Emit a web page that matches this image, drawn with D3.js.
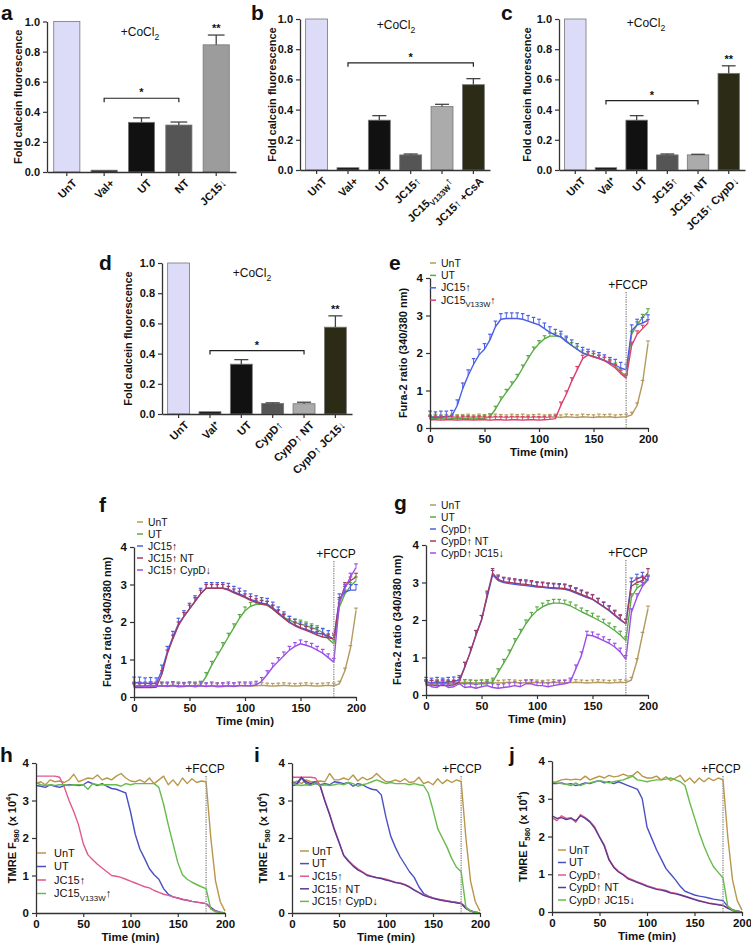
<!DOCTYPE html>
<html><head><meta charset="utf-8">
<script src="https://cdn.jsdelivr.net/npm/d3@7"></script>
<style>body{margin:0;background:#fff}svg{display:block}text{font-family:"Liberation Sans",Arial,Helvetica,sans-serif;fill:#111}</style>
</head><body><svg id="fig" width="751" height="949"></svg>
<script>
// ---------------- DATA ----------------
const barTicks = [0, 0.2, 0.4, 0.6, 0.8, 1.0];
const a_cats = ["UnT","Val+","UT","NT","JC15↓"];
const a_vals = [1.0, 0.012, 0.33, 0.312, 0.845];
const a_errs = [0, 0, 0.03, 0.02, 0.065];
const b_cats = ["UnT","Val+","UT","JC15↑","JC15_{V133W}↑","JC15↑ +CsA"];
const b_vals = [1.0, 0.015, 0.33, 0.10, 0.42, 0.565];
const b_errs = [0, 0, 0.03, 0.006, 0.015, 0.04];
const c_cats = ["UnT","Val⁺","UT","JC15↑","JC15↑ NT","JC15↑ CypD↓"];
const c_vals = [1.0, 0.015, 0.33, 0.10, 0.10, 0.64];
const c_errs = [0, 0, 0.03, 0.006, 0.004, 0.05];
const d_cats = ["UnT","Val⁺","UT","CypD↑","CypD↑ NT","CypD↑ JC15↓"];
const d_vals = [1.0, 0.015, 0.33, 0.07, 0.068, 0.575];
const d_errs = [0, 0, 0.03, 0.004, 0.01, 0.075];

const furaTicks = [0, 1, 2, 3, 4];
const timeTicks = [0, 50, 100, 150, 200];
const time = [0,5,10,15,20,25,30,35,40,45,50,55,60,65,70,75,80,85,90,95,100,105,110,115,120,125,130,135,140,145,150,155,160,165,170,175,180,185,190,195,200];

const e_names = ["UnT","UT","JC15↑","JC15_{V133W}↑"];
const e_UnT = [0.28,0.30,0.28,0.29,0.30,0.28,0.29,0.30,0.28,0.30, 0.29,0.28,0.30,0.29,0.28,0.30,0.29,0.30,0.28,0.29, 0.30,0.28,0.29,0.30,0.28,0.30,0.29,0.28,0.30,0.29, 0.28,0.30,0.29,0.30,0.28,0.29,0.30,0.35,0.60,1.20, 2.25];
const e_UT = [0.25,0.26,0.25,0.24,0.25,0.26,0.25,0.25,0.24,0.25, 0.26,0.30,0.50,0.75,0.95,1.15,1.35,1.60,1.85,2.08, 2.25,2.38,2.45,2.45,2.43,2.33,2.20,2.10,2.00,1.95, 1.90,1.86,1.80,1.75,1.65,1.50,1.37,2.50,2.75,2.95, 3.10];
const e_JC15 = [0.30,0.28,0.30,0.30,0.32,0.60,1.05,1.40,1.70,1.95, 2.10,2.35,2.70,2.90,2.92,2.92,2.92,2.90,2.85,2.80, 2.75,2.65,2.55,2.48,2.43,2.30,2.20,2.10,2.00,1.95, 1.90,1.86,1.80,1.73,1.68,1.60,1.55,2.60,2.75,2.80, 2.87];
const e_V133W = [0.22,0.22,0.21,0.22,0.22,0.21,0.22,0.22,0.21,0.22, 0.22,0.21,0.22,0.22,0.21,0.22,0.22,0.21,0.22,0.22, 0.21,0.22,0.23,0.25,0.60,0.90,1.25,1.55,1.85,1.95, 1.90,1.85,1.80,1.70,1.60,1.45,1.33,2.20,2.50,2.65, 2.80];
const e_err = [0.07, 0.08, 0.15, 0.09];

const f_names = ["UnT","UT","JC15↑","JC15↑ NT","JC15↑ CypD↓"];
const f_UnT = [0.30,0.29,0.30,0.31,0.30,0.29,0.30,0.31,0.30,0.29, 0.30,0.31,0.30,0.29,0.30,0.31,0.30,0.29,0.30,0.31, 0.30,0.29,0.30,0.31,0.30,0.29,0.30,0.31,0.30,0.29, 0.30,0.31,0.30,0.29,0.30,0.31,0.30,0.35,0.70,1.30, 2.30];
const f_UT = [0.30,0.29,0.30,0.31,0.30,0.29,0.30,0.31,0.30,0.29, 0.30,0.30,0.32,0.55,0.85,1.10,1.35,1.60,1.85,2.10, 2.30,2.42,2.47,2.47,2.45,2.35,2.22,2.12,2.05,1.98, 1.95,1.90,1.85,1.80,1.72,1.55,1.42,2.40,2.75,2.95, 3.10];
const f_JC15 = [0.38,0.38,0.36,0.37,0.36,0.70,1.20,1.60,1.95,2.15, 2.35,2.55,2.75,2.90,2.90,2.90,2.90,2.88,2.80,2.75, 2.68,2.60,2.55,2.50,2.48,2.38,2.25,2.12,2.00,1.92, 1.85,1.80,1.75,1.70,1.68,1.62,1.55,2.60,2.80,2.85, 2.85];
const f_NT = [0.25,0.25,0.26,0.25,0.26,0.60,1.15,1.55,1.90,2.15, 2.35,2.55,2.75,2.90,2.90,2.90,2.90,2.85,2.78,2.72, 2.65,2.58,2.52,2.48,2.45,2.35,2.22,2.10,1.98,1.90, 1.83,1.78,1.72,1.65,1.60,1.58,1.55,2.55,2.95,3.10, 3.20];
const f_CypD = [0.28,0.30,0.27,0.30,0.28,0.30,0.28,0.30,0.27,0.28, 0.30,0.27,0.30,0.28,0.30,0.27,0.28,0.30,0.28,0.30, 0.30,0.30,0.32,0.42,0.60,0.80,0.95,1.10,1.25,1.35, 1.42,1.38,1.33,1.25,1.17,1.05,0.93,2.50,2.90,3.20, 3.45];
const f_err = [0.07, 0.1, 0.15, 0.1, 0.1];

const g_names = ["UnT","UT","CypD↑","CypD↑ NT","CypD↑ JC15↓"];
const g_UnT = [0.33,0.32,0.33,0.34,0.33,0.32,0.33,0.34,0.33,0.32, 0.33,0.34,0.33,0.32,0.33,0.34,0.33,0.32,0.33,0.34, 0.33,0.32,0.33,0.34,0.33,0.32,0.33,0.34,0.33,0.32, 0.33,0.34,0.33,0.32,0.33,0.34,0.33,0.40,0.90,1.60, 2.30];
const g_UT = [0.30,0.29,0.30,0.31,0.30,0.29,0.30,0.31,0.30,0.29, 0.30,0.30,0.35,0.60,0.85,1.10,1.40,1.65,1.90,2.10, 2.25,2.35,2.42,2.45,2.45,2.43,2.38,2.30,2.22,2.15, 2.08,2.00,1.92,1.82,1.72,1.60,1.45,2.60,2.85,2.95, 3.10];
const g_CypD = [0.35,0.33,0.35,0.33,0.35,0.36,0.40,0.75,1.15,1.60, 2.00,2.60,3.20,3.05,3.00,2.97,2.95,2.93,2.92,2.90, 2.88,2.87,2.85,2.84,2.83,2.82,2.78,2.72,2.66,2.60, 2.55,2.45,2.35,2.25,2.12,2.00,1.90,3.00,3.10,3.15, 3.05];
const g_NT = [0.25,0.27,0.25,0.26,0.25,0.27,0.35,0.75,1.15,1.60, 2.00,2.65,3.25,3.08,3.02,3.00,2.98,2.96,2.95,2.93, 2.90,2.89,2.87,2.86,2.85,2.84,2.80,2.74,2.68,2.62, 2.56,2.46,2.36,2.26,2.14,2.02,1.90,2.90,3.00,3.05, 3.25];
const g_JC15 = [0.30,0.22,0.20,0.30,0.20,0.22,0.30,0.20,0.22,0.18, 0.22,0.25,0.20,0.18,0.20,0.22,0.25,0.22,0.30,0.30, 0.25,0.25,0.22,0.25,0.28,0.30,0.35,0.70,1.05,1.60, 1.58,1.52,1.45,1.38,1.28,1.15,0.95,2.20,2.60,2.90, 3.07];
const g_err = [0.07, 0.1, 0.12, 0.12, 0.1];

const h_names = ["UnT","UT","JC15↑","JC15_{V133W}↑"];
const h_UnT = [3.45,3.50,3.42,3.55,3.50,3.52,3.48,3.55,3.70,3.50, 3.55,3.60,3.58,3.68,3.55,3.60,3.55,3.65,3.72,3.60, 3.52,3.50,3.55,3.48,3.60,3.45,3.55,3.65,3.42,3.55, 3.40,3.60,3.45,3.58,3.48,3.52,3.50,2.00,0.85,0.30, 0.05];
const h_UT = [3.40,3.38,3.35,3.42,3.38,3.35,3.40,3.42,3.42,3.40, 3.42,3.50,3.45,3.40,3.45,3.38,3.32,3.30,3.25,3.20, 2.70,2.10,1.70,1.45,1.18,1.02,0.90,0.65,0.50,0.43, 0.40,0.36,0.34,0.31,0.29,0.27,0.25,0.15,0.06,0.02, 0.00];
const h_JC15 = [3.65,3.65,3.65,3.65,3.65,3.62,3.35,3.00,2.70,2.35, 1.85,1.55,1.42,1.30,1.20,1.10,1.00,0.98,0.95,0.90, 0.85,0.80,0.75,0.70,0.67,0.60,0.55,0.50,0.47,0.43, 0.40,0.37,0.34,0.31,0.29,0.27,0.25,0.12,0.05,0.02, 0.00];
const h_V133W = [3.48,3.42,3.40,3.42,3.40,3.42,3.42,3.40,3.42,3.42, 3.42,3.30,3.45,3.42,3.42,3.42,3.42,3.42,3.38,3.45, 3.42,3.45,3.45,3.45,3.45,3.45,3.35,2.90,2.35,1.85, 1.35,1.02,0.90,0.82,0.76,0.70,0.65,0.10,0.03,0.01, 0.00];

const i_names = ["UnT","UT","JC15↑","JC15↑ NT","JC15↑ CypD↓"];
const i_UnT = [3.45,3.52,3.45,3.55,3.50,3.50,3.52,3.50,3.72,3.55, 3.55,3.60,3.55,3.68,3.52,3.62,3.55,3.60,3.72,3.60, 3.50,3.50,3.55,3.50,3.58,3.48,3.50,3.62,3.45,3.50, 3.42,3.58,3.45,3.55,3.48,3.55,3.50,2.00,0.85,0.30, 0.05];
const i_UT = [3.40,3.42,3.60,3.45,3.42,3.45,3.42,3.45,3.42,3.50, 3.48,3.45,3.48,3.38,3.45,3.42,3.35,3.30,3.28,3.15, 2.55,2.05,1.75,1.50,1.30,1.10,0.95,0.70,0.52,0.45, 0.40,0.37,0.35,0.32,0.30,0.28,0.26,0.15,0.06,0.02, 0.00];
const i_JC15 = [3.62,3.62,3.62,3.62,3.62,3.60,3.40,3.00,2.65,2.25, 1.90,1.55,1.40,1.28,1.18,1.10,1.02,0.98,0.95,0.93, 0.90,0.86,0.82,0.80,0.76,0.70,0.62,0.55,0.48,0.44, 0.40,0.37,0.34,0.32,0.30,0.28,0.26,0.12,0.05,0.02, 0.00];
const i_NT = [3.50,3.45,3.62,3.50,3.45,3.50,3.38,2.98,2.62,2.22, 1.88,1.53,1.38,1.25,1.15,1.08,1.00,0.97,0.94,0.92, 0.88,0.85,0.81,0.79,0.75,0.69,0.61,0.54,0.47,0.43, 0.39,0.36,0.33,0.31,0.29,0.27,0.25,0.12,0.05,0.02, 0.00];
const i_CypD = [3.50,3.42,3.40,3.42,3.40,3.48,3.40,3.42,3.40,3.42, 3.45,3.42,3.48,3.45,3.38,3.42,3.45,3.50,3.55,3.50, 3.45,3.48,3.45,3.45,3.45,3.42,3.45,3.42,3.40,3.20, 2.75,2.25,2.00,1.75,1.45,1.22,1.10,0.15,0.05,0.02, 0.00];

const j_names = ["UnT","UT","CypD↑","CypD↑ NT","CypD↑ JC15↓"];
const j_UnT = [3.42,3.45,3.50,3.52,3.50,3.52,3.50,3.60,3.50,3.55, 3.60,3.55,3.62,3.58,3.60,3.65,3.60,3.62,3.72,3.60, 3.55,3.55,3.60,3.50,3.58,3.48,3.55,3.62,3.45,3.55, 3.42,3.55,3.45,3.55,3.48,3.55,3.50,2.00,0.85,0.30, 0.05];
const j_UT = [3.40,3.40,3.42,3.38,3.40,3.35,3.38,3.42,3.40,3.45, 3.48,3.42,3.45,3.40,3.45,3.40,3.35,3.30,3.25,3.00, 2.25,1.95,1.65,1.40,1.15,1.00,0.85,0.68,0.55,0.50, 0.45,0.42,0.40,0.37,0.34,0.32,0.30,0.15,0.06,0.02, 0.00];
const j_CypD = [2.50,2.42,2.55,2.48,2.50,2.38,2.58,2.50,2.40,2.25, 2.00,1.78,1.40,1.20,1.08,1.00,0.90,0.85,0.80,0.75, 0.70,0.66,0.62,0.60,0.57,0.52,0.50,0.46,0.42,0.38, 0.34,0.30,0.27,0.24,0.22,0.20,0.18,0.10,0.04,0.02, 0.00];
const j_NT = [2.55,2.48,2.50,2.45,2.48,2.42,2.55,2.48,2.38,2.22, 1.98,1.75,1.38,1.18,1.06,0.98,0.88,0.83,0.78,0.73, 0.68,0.64,0.60,0.58,0.55,0.50,0.48,0.45,0.41,0.37, 0.33,0.29,0.26,0.23,0.21,0.19,0.17,0.10,0.04,0.02, 0.00];
const j_JC15 = [3.45,3.42,3.40,3.38,3.35,3.42,3.35,3.40,3.42,3.45, 3.48,3.45,3.42,3.45,3.48,3.50,3.55,3.60,3.50,3.48, 3.45,3.48,3.50,3.50,3.52,3.55,3.50,3.45,3.35,2.90, 2.50,2.10,1.75,1.45,1.20,1.05,0.90,0.15,0.05,0.02, 0.00];

// ---------------- STYLE / LAYOUT ----------------
const FONT = "'Liberation Sans', Arial, Helvetica, sans-serif";
const barFill = {lav:"#dcdcf8", blk:"#111111", dg:"#555555", mg:"#9c9c9c", lg:"#ababab", olive:"#2c2b16"};
const FC = {tan:"#b39a5f", green:"#5aab45", blue:"#4b5ee8", red:"#d9406b", maroon:"#a33a62", purple:"#9b4fe6"};
const TC = {tan:"#b8964a", blue:"#4a4fc4", pink:"#e2588e", dpurple:"#5b3a93", green:"#66bb4c"};

const svg = d3.select("#fig");

function rich(sel, str, fs) {
  const parts = str.split(/(_\{[^}]*\}|\^\{[^}]*\})/).filter(s => s.length);
  let shift = 0;
  parts.forEach(p => {
    let t = p, dy = 0, size = null;
    if (p.startsWith("_{")) { t = p.slice(2, -1); dy = fs * 0.3; size = fs * 0.72; }
    else if (p.startsWith("^{")) { t = p.slice(2, -1); dy = -fs * 0.42; size = fs * 0.72; }
    const ts = sel.append("tspan").text(t);
    const need = dy - shift;
    if (need) ts.attr("dy", need);
    if (size) ts.attr("font-size", size);
    shift = dy;
  });
}
function letter(x, y, t) {
  svg.append("text").attr("x", x).attr("y", y).attr("font-size", 21).attr("font-weight", "bold").text(t);
}
function styleAxis(g, fs) {
  g.select(".domain").attr("stroke", "#333").attr("stroke-width", 1.3);
  g.selectAll(".tick line").attr("stroke", "#333").attr("stroke-width", 1.2);
  g.selectAll(".tick text").attr("font-family", FONT).attr("font-size", fs || 11).attr("font-weight", "bold").attr("fill", "#111");
}
function yTitle(x, yc, str, fs) {
  const t = svg.append("text").attr("transform", `translate(${x},${yc}) rotate(-90)`)
    .attr("text-anchor", "middle").attr("dy", "0.35em").attr("font-size", fs).attr("font-weight", "bold");
  rich(t, str, fs);
}

function barPanel(L, cats, vals, errs, fills, bracket, starsIdx) {
  const g = svg.append("g");
  const x = d3.scaleBand().domain(cats).range([L.x0, L.x1]).paddingInner(0.3).paddingOuter(0.18);
  const y = d3.scaleLinear().domain([0, 1]).range([L.yb, L.yt]);
  const bw = x.bandwidth();
  g.selectAll("rect.bar").data(cats).join("rect").attr("class", "bar")
    .attr("x", c => x(c)).attr("width", bw)
    .attr("y", (c, i) => y(vals[i])).attr("height", (c, i) => y(0) - y(vals[i]))
    .attr("fill", (c, i) => fills[i]).attr("stroke", "#777").attr("stroke-width", 0.8);
  cats.forEach((c, i) => {
    if (errs[i] > 0) {
      const cx = x(c) + bw / 2, y1 = y(vals[i]), y2 = y(vals[i] + errs[i]);
      g.append("line").attr("x1", cx).attr("x2", cx).attr("y1", y1).attr("y2", y2).attr("stroke", "#444").attr("stroke-width", 1.3);
      g.append("line").attr("x1", cx - bw * 0.32).attr("x2", cx + bw * 0.32).attr("y1", y2).attr("y2", y2).attr("stroke", "#444").attr("stroke-width", 1.3);
    }
  });
  const ya = g.append("g").attr("transform", `translate(${L.x0},0)`)
    .call(d3.axisLeft(y).tickValues(barTicks).tickFormat(d3.format(".1f")).tickSize(4).tickSizeOuter(0));
  styleAxis(ya, 11);
  const xa = g.append("g").attr("transform", `translate(0,${L.yb})`)
    .call(d3.axisBottom(x).tickSize(4).tickSizeOuter(0).tickFormat(""));
  styleAxis(xa);
  cats.forEach(c => {
    const cx = x(c) + bw / 2;
    const t = g.append("text").attr("transform", `translate(${cx + 5},${L.yb + 6}) rotate(-45)`)
      .attr("text-anchor", "end").attr("dy", "0.75em").attr("font-size", 11).attr("font-weight", "bold");
    rich(t, c, 11);
  });
  const bx1 = x(bracket.from) + bw / 2, bx2 = x(bracket.to) + bw / 2, by = y(bracket.level);
  g.append("path").attr("d", `M${bx1},${by + 4}V${by}H${bx2}V${by + 4}`).attr("fill", "none").attr("stroke", "#222").attr("stroke-width", 1.2);
  g.append("text").attr("x", (bx1 + bx2) / 2).attr("y", by - 2).attr("text-anchor", "middle").attr("font-size", 11).attr("font-weight", "bold").text("*");
  starsIdx.forEach(i => {
    const cx = x(cats[i]) + bw / 2;
    g.append("text").attr("x", cx).attr("y", y(vals[i] + errs[i]) - 3).attr("text-anchor", "middle").attr("font-size", 11).attr("font-weight", "bold").text("**");
  });
  const tt = g.append("text").attr("x", L.title[0]).attr("y", L.title[1]).attr("text-anchor", "middle").attr("font-size", 12);
  rich(tt, "+CoCl_{2}", 12);
  yTitle(L.ylabX, (L.yt + L.yb) / 2, "Fold calcein fluorescence", 11);
  letter(L.letter[0], L.letter[1], L.letter[2]);
}

function legend(L, names, colors) {
  names.forEach((n, k) => {
    const yy = L.leg.y + k * L.leg.dy;
    svg.append("line").attr("x1", L.leg.x).attr("x2", L.leg.x + L.leg.len).attr("y1", yy).attr("y2", yy).attr("stroke", colors[k]).attr("stroke-width", 1.5);
    const t = svg.append("text").attr("x", L.leg.tx).attr("y", yy).attr("dy", "0.35em").attr("font-size", L.leg.fs).attr("fill", "#222");
    rich(t, n, L.leg.fs);
  });
}

function linePanel(L, series, names, colors, errs, ydom, yticks, ylab) {
  const g = svg.append("g");
  const x = d3.scaleLinear().domain([0, 200]).range([L.x0, L.x1]);
  const y = d3.scaleLinear().domain(ydom).range([L.yb, L.yt]);
  const line = d3.line().x((d, i) => x(time[i])).y(d => y(d));
  series.forEach((s, k) => {
    g.append("path").attr("d", line(s)).attr("fill", "none").attr("stroke", colors[k]).attr("stroke-width", 1.4).attr("stroke-linejoin", "round");
    if (errs) {
      s.forEach((v, i) => {
        const xx = x(time[i]), y1 = y(v), y2 = y(v + errs[k]);
        g.append("line").attr("x1", xx).attr("x2", xx).attr("y1", y1).attr("y2", y2).attr("stroke", colors[k]).attr("stroke-width", 1);
        g.append("line").attr("x1", xx - 1.8).attr("x2", xx + 1.8).attr("y1", y2).attr("y2", y2).attr("stroke", colors[k]).attr("stroke-width", 1.2);
      });
    }
  });
  g.append("line").attr("x1", x(180)).attr("x2", x(180)).attr("y1", L.fccp[1] + 3).attr("y2", L.yb)
    .attr("stroke", "#999").attr("stroke-width", 1.6).attr("stroke-dasharray", "1.2,1.2");
  g.append("text").attr("x", L.fccp[0]).attr("y", L.fccp[1]).attr("text-anchor", "middle").attr("font-size", 12).text("+FCCP");
  const ya = g.append("g").attr("transform", `translate(${L.x0},0)`)
    .call(d3.axisLeft(y).tickValues(yticks).tickFormat(d3.format("d")).tickSize(4).tickSizeOuter(0));
  styleAxis(ya, 11.5);
  const xa = g.append("g").attr("transform", `translate(0,${L.yb})`)
    .call(d3.axisBottom(x).tickValues(timeTicks).tickFormat(d3.format("d")).tickSize(4).tickSizeOuter(0));
  styleAxis(xa, 11.5);
  g.append("text").attr("x", (L.x0 + L.x1) / 2).attr("y", L.yb + 28).attr("text-anchor", "middle").attr("font-size", 11.5).attr("font-weight", "bold").text("Time (min)");
  yTitle(L.ylabX, (L.yt + L.yb) / 2, ylab, 11);
  legend(L, names, colors);
  letter(L.letter[0], L.letter[1], L.letter[2]);
}

// ---------------- PANELS ----------------
const Fc = [barFill.lav, barFill.blk, barFill.blk, barFill.dg, barFill.lg, barFill.olive];
barPanel({x0:47, x1:236, yt:21.5, yb:172, ylabX:18, letter:[1,20,"a"], title:[140,36]},
  a_cats, a_vals, a_errs, [barFill.lav, barFill.blk, barFill.blk, barFill.dg, barFill.mg],
  {from:"Val+", to:"NT", level:0.49}, [4]);
barPanel({x0:300, x1:490, yt:19, yb:170, ylabX:272, letter:[251,20,"b"], title:[396,29]},
  b_cats, b_vals, b_errs, Fc, {from:"Val+", to:"JC15↑ +CsA", level:0.71}, []);
barPanel({x0:559, x1:745, yt:19, yb:170, ylabX:527, letter:[501,20,"c"], title:[646,27]},
  c_cats, c_vals, c_errs, Fc, {from:"Val⁺", to:"JC15↑ NT", level:0.46}, [5]);
barPanel({x0:162, x1:352, yt:263, yb:414, ylabX:128, letter:[99,270,"d"], title:[252,277]},
  d_cats, d_vals, d_errs, Fc, {from:"Val⁺", to:"CypD↑ NT", level:0.42}, [5]);

const furaLab = "Fura-2 ratio (340/380 nm)";
linePanel({x0:430, x1:648, yt:278, yb:428, ylabX:403, letter:[389,270,"e"], fccp:[628,289],
  leg:{x:430, len:6, tx:441, y:263, dy:12.4, fs:10.5}},
  [e_UnT, e_UT, e_JC15, e_V133W], e_names, [FC.tan, FC.green, FC.blue, FC.red], e_err, [0,4], furaTicks, furaLab);
linePanel({x0:134, x1:356, yt:547, yb:697, ylabX:107, letter:[99,512,"f"], fccp:[336,558],
  leg:{x:137, len:6, tx:148, y:522, dy:12, fs:10.3}},
  [f_UnT, f_UT, f_JC15, f_NT, f_CypD], f_names, [FC.tan, FC.green, FC.blue, FC.maroon, FC.purple], f_err, [0,4], furaTicks, furaLab);
linePanel({x0:426, x1:648, yt:545, yb:695, ylabX:397, letter:[394,510,"g"], fccp:[628,557],
  leg:{x:430, len:6, tx:441, y:505, dy:12, fs:10.3}},
  [g_UnT, g_UT, g_CypD, g_NT, g_JC15], g_names, [FC.tan, FC.green, FC.blue, FC.maroon, FC.purple], g_err, [0,4], furaTicks, furaLab);

const tmreLab = "TMRE F_{580} (x 10^{4})";
linePanel({x0:36, x1:225, yt:763, yb:913, ylabX:12, letter:[0,762,"h"], fccp:[205,773],
  leg:{x:37, len:9, tx:54, y:853, dy:13.5, fs:11}},
  [h_UnT, h_UT, h_JC15, h_V133W], h_names, [TC.tan, TC.blue, TC.pink, TC.green], null, [0,4], furaTicks, tmreLab);
linePanel({x0:292, x1:480, yt:763, yb:913, ylabX:263, letter:[254,762,"i"], fccp:[462,773],
  leg:{x:300, len:9, tx:312, y:851, dy:12.6, fs:10.8}},
  [i_UnT, i_UT, i_JC15, i_NT, i_CypD], i_names, [TC.tan, TC.blue, TC.pink, TC.dpurple, TC.green], null, [0,4], furaTicks, tmreLab);
linePanel({x0:552, x1:742, yt:761, yb:912, ylabX:523, letter:[509,762,"j"], fccp:[721,773],
  leg:{x:558, len:8, tx:569, y:850, dy:12.5, fs:10.8}},
  [j_UnT, j_UT, j_CypD, j_NT, j_JC15], j_names, [TC.tan, TC.blue, TC.pink, TC.dpurple, TC.green], null, [0,4], furaTicks, tmreLab);
</script>
</body></html>
